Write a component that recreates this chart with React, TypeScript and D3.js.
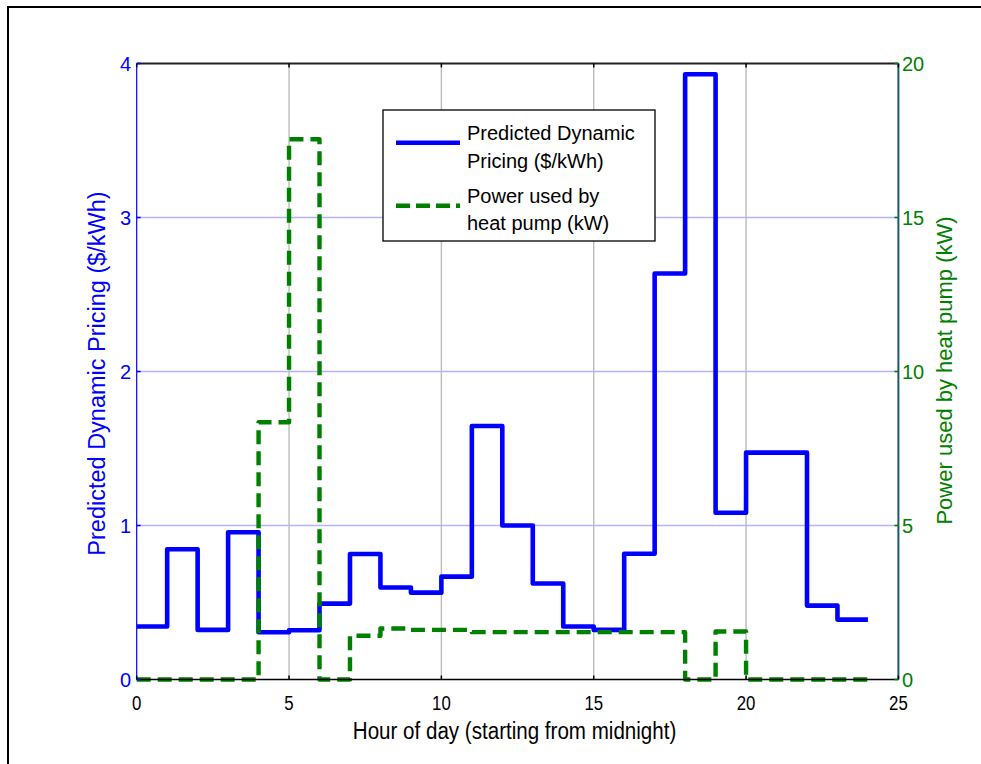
import React from "react";
import * as d3 from "d3";

// Hourly predicted price ($/kWh) for hours 0..23
const hours = d3.range(0, 24);
const priceValues = [
  0.344, 0.846, 0.322, 0.956, 0.307, 0.32, 0.493, 0.815, 0.597, 0.564, 0.668, 1.646,
  1.0, 0.623, 0.344, 0.322, 0.817, 2.636, 3.93, 1.083, 1.473, 1.473, 0.48, 0.389,
];
// Hourly heat pump power (kW) for hours 0..23
const powerValues = [
  0, 0, 0, 0, 8.35, 17.54, 0, 1.42, 1.654, 1.61, 1.61, 1.537,
  1.537, 1.537, 1.537, 1.537, 1.537, 1.537, 0, 1.56, 0, 0, 0, 0,
];

const xTicks = [0, 5, 10, 15, 20, 25];
const leftTicks = [0, 1, 2, 3, 4];
const rightTicks = [0, 5, 10, 15, 20];

const xLabel = "Hour of day (starting from midnight)";
const leftLabel = "Predicted Dynamic Pricing ($/kWh)";
const rightLabel = "Power used by heat pump (kW)";
const legendPrice = ["Predicted Dynamic", "Pricing ($/kWh)"];
const legendPower = ["Power used by", "heat pump (kW)"];

const W = 981;
const H = 764;
const left = 136.7;
const right = 898.4;
const top = 63.5;
const bottom = 679.5;

const FONT = "'Liberation Sans', Arial, sans-serif";
const BLUE = "#0000ff";
const GREEN = "#008000";

export default function App() {
  const x = d3.scaleLinear().domain([0, 25]).range([left, right]);
  const yL = d3.scaleLinear().domain([0, 4]).range([bottom, top]);
  const yR = d3.scaleLinear().domain([0, 20]).range([bottom, top]);

  // step series: value holds from hour h until h+1, closed at hour 24
  const pricePts: [number, number][] = hours.map((h, i) => [h, priceValues[i]]);
  pricePts.push([24, priceValues[priceValues.length - 1]]);
  const powerPts: [number, number][] = hours.map((h, i) => [h, powerValues[i]]);
  powerPts.push([24, powerValues[powerValues.length - 1]]);

  const priceLine = d3
    .line<[number, number]>()
    .x((d) => x(d[0]))
    .y((d) => yL(d[1]))
    .curve(d3.curveStepAfter);
  const powerLine = d3
    .line<[number, number]>()
    .x((d) => x(d[0]))
    .y((d) => yR(d[1]))
    .curve(d3.curveStepAfter);

  const tick = 4;

  return (
    <svg
      width={W}
      height={H}
      style={{ position: "absolute", left: 0, top: 0, background: "#fff" }}
      fontFamily={FONT}
    >
      <rect x={0} y={0} width={W} height={H} fill="#fff" />
      {/* figure frame */}
      <rect x={8} y={7} width={W + 20} height={H + 20} fill="none" stroke="#000" strokeWidth={2} />

      {/* grid */}
      {xTicks
        .filter((t) => t > 0 && t < 25)
        .map((t) => (
          <line key={"gx" + t} x1={x(t)} x2={x(t)} y1={top} y2={bottom} stroke="#bcbcbc" strokeWidth={1.4} />
        ))}
      {leftTicks
        .filter((t) => t > 0 && t < 4)
        .map((t) => (
          <line key={"gy" + t} x1={left} x2={right} y1={yL(t)} y2={yL(t)} stroke="#b4b4fa" strokeWidth={1.3} />
        ))}

      {/* series */}
      <path d={priceLine(pricePts) || ""} fill="none" stroke={BLUE} strokeWidth={4.6} strokeLinejoin="round" />
      <path
        d={powerLine(powerPts) || ""}
        fill="none"
        stroke={GREEN}
        strokeWidth={4.4}
        strokeDasharray="14,7"
        strokeLinejoin="round"
      />

      {/* axes */}
      <line x1={left} x2={right} y1={top} y2={top} stroke="#222" strokeWidth={2} />
      <line x1={left} x2={right} y1={bottom} y2={bottom} stroke="#000" strokeWidth={1.5} />
      <line x1={left} x2={left} y1={top} y2={bottom} stroke={BLUE} strokeWidth={1.2} />
      <line x1={right} x2={right} y1={top} y2={bottom} stroke="#1d5870" strokeWidth={2} />

      {xTicks.map((t) => (
        <g key={"xt" + t}>
          <line x1={x(t)} x2={x(t)} y1={bottom} y2={bottom - tick} stroke="#000" strokeWidth={1.5} />
          <line x1={x(t)} x2={x(t)} y1={top} y2={top + tick} stroke="#000" strokeWidth={1.5} />
          <text
            transform={`translate(${x(t)},710) scale(0.8,1)`}
            textAnchor="middle"
            fontSize={21}
            fill="#000"
          >
            {t}
          </text>
        </g>
      ))}

      {leftTicks.map((t) => (
        <g key={"yl" + t}>
          <line x1={left} x2={left + tick} y1={yL(t)} y2={yL(t)} stroke={BLUE} strokeWidth={1.5} />
          <text x={131} y={yL(t) + 7} textAnchor="end" fontSize={20} fill={BLUE}>
            {t}
          </text>
        </g>
      ))}

      {rightTicks.map((t) => (
        <g key={"yr" + t}>
          <line x1={right} x2={right - tick} y1={yR(t)} y2={yR(t)} stroke={GREEN} strokeWidth={1.5} />
          <text x={902} y={yR(t) + 7} textAnchor="start" fontSize={20} fill={GREEN}>
            {t}
          </text>
        </g>
      ))}

      {/* axis titles */}
      <text
        transform={`translate(${(left + right) / 2 - 3},739) scale(0.84,1)`}
        textAnchor="middle"
        fontSize={24.5}
        fill="#000"
      >
        {xLabel}
      </text>
      <text
        transform={`translate(104.5,${(top + bottom) / 2 + 2}) rotate(-90)`}
        textAnchor="middle"
        fontSize={23.5}
        fill={BLUE}
      >
        {leftLabel}
      </text>
      <text
        transform={`translate(952,${(top + bottom) / 2 - 1}) rotate(-90)`}
        textAnchor="middle"
        fontSize={22}
        fill={GREEN}
      >
        {rightLabel}
      </text>

      {/* legend */}
      <g>
        <rect x={383} y={110} width={272} height={131} fill="#fff" stroke="#000" strokeWidth={1.3} />
        <line x1={396} x2={460} y1={142.7} y2={142.7} stroke={BLUE} strokeWidth={4.6} />
        <line x1={396} x2={460} y1={205.7} y2={205.7} stroke={GREEN} strokeWidth={4.4} strokeDasharray="14,6" />
        {legendPrice.map((s, i) => (
          <text key={"lp" + i} x={467} y={140 + i * 28} fontSize={20} fill="#000">
            {s}
          </text>
        ))}
        {legendPower.map((s, i) => (
          <text key={"lw" + i} x={467} y={203 + i * 27} fontSize={20} fill="#000">
            {s}
          </text>
        ))}
      </g>
    </svg>
  );
}
